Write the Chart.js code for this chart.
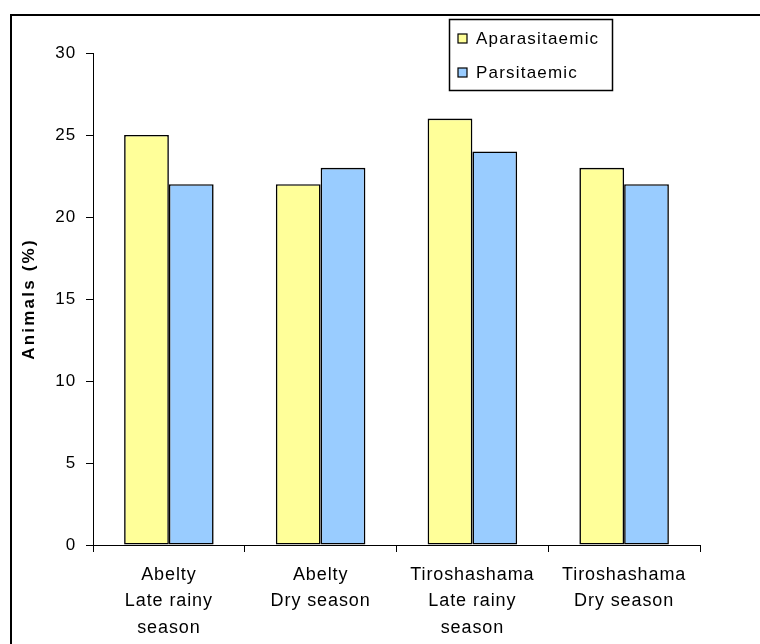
<!DOCTYPE html>
<html>
<head>
<meta charset="utf-8">
<style>
  html, body { margin: 0; padding: 0; background: #ffffff; }
  #wrap { width: 760px; height: 644px; position: relative; }
</style>
<script src="https://cdn.jsdelivr.net/npm/chart.js@4.4.1/dist/chart.umd.min.js"></script>
</head>
<body>
<div id="wrap"><canvas id="c" width="760" height="644"></canvas></div>
<script>
// Sites and seasons
const categories = [
  ['Abelty', 'Late rainy', 'season'],
  ['Abelty', 'Dry season'],
  ['Tiroshashama', 'Late rainy', 'season'],
  ['Tiroshashama', 'Dry season']
];
const seriesNames = ['Aparasitaemic', 'Parsitaemic'];
const aparasitaemic = [25, 22, 26, 23];
const parsitaemic = [22, 23, 24, 22];
const yTicks = [0, 5, 10, 15, 20, 25, 30];
const yTitle = 'Animals (%)';

const FONT = "'Liberation Sans', Arial, Helvetica, sans-serif";
const colors = ['#FFFF99', '#99CCFF'];
const AXIS_SPACING = '0.9px';

// Slightly widened letter spacing for axis labels (also while measuring them)
const spacingPlugin = {
  id: 'spacing',
  beforeUpdate(chart) { chart.ctx.letterSpacing = AXIS_SPACING; },
  beforeLayout(chart) { chart.ctx.letterSpacing = AXIS_SPACING; },
  beforeDraw(chart) { chart.ctx.letterSpacing = AXIS_SPACING; }
};

// Outer frame, rotated value-axis title and boxed legend
const framePlugin = {
  id: 'frameAndLegend',
  afterDraw(chart) {
    const ctx = chart.ctx;
    const area = chart.chartArea;
    ctx.save();
    ctx.strokeStyle = '#000';
    ctx.lineWidth = 2;
    ctx.strokeRect(11, 15, 900, 900);

    // value axis title
    ctx.save();
    ctx.letterSpacing = '2.2px';
    ctx.fillStyle = '#000';
    ctx.font = 'bold 17px ' + FONT;
    ctx.textAlign = 'center';
    ctx.textBaseline = 'middle';
    ctx.translate(29, (area.top + area.bottom) / 2);
    ctx.rotate(-Math.PI / 2);
    ctx.fillText(yTitle, 0, 0);
    ctx.restore();

    // legend box
    ctx.lineWidth = 1.5;
    ctx.fillStyle = '#fff';
    ctx.fillRect(449.5, 19.5, 163, 71);
    ctx.strokeRect(449.5, 19.5, 163, 71);
    ctx.letterSpacing = '1.2px';
    ctx.font = '17px ' + FONT;
    ctx.textBaseline = 'middle';
    const rows = [38.5, 72.5];
    chart.data.datasets.forEach((ds, i) => {
      const y = rows[i];
      ctx.fillStyle = ds.backgroundColor;
      ctx.fillRect(458, y - 4.5, 9, 9);
      ctx.lineWidth = 1.2;
      ctx.strokeStyle = '#000';
      ctx.strokeRect(458, y - 4.5, 9, 9);
      ctx.fillStyle = '#000';
      ctx.fillText(ds.label, 476, y + 1);
    });
    ctx.restore();
  }
};

new Chart(document.getElementById('c'), {
  type: 'bar',
  data: {
    labels: categories,
    datasets: [
      { label: seriesNames[0], data: aparasitaemic, backgroundColor: colors[0],
        borderColor: '#000', borderWidth: 1.6, borderSkipped: false },
      { label: seriesNames[1], data: parsitaemic, backgroundColor: colors[1],
        borderColor: '#000', borderWidth: 1.6, borderSkipped: false }
    ]
  },
  options: {
    responsive: false,
    animation: false,
    devicePixelRatio: 1,
    layout: { padding: { left: 0, top: 53, right: 60, bottom: 0 } },
    datasets: { bar: { categoryPercentage: 0.59, barPercentage: 1.0 } },
    plugins: {
      legend: { display: false },
      tooltip: { enabled: false }
    },
    scales: {
      x: {
        grid: { display: true, drawOnChartArea: false, offset: true,
                tickLength: 7, color: '#000', lineWidth: 1 },
        border: { display: true, color: '#000', width: 1 },
        ticks: { color: '#000', font: { family: FONT, size: 18, lineHeight: 1.46 },
                 padding: 10, maxRotation: 0, autoSkip: false },
        afterFit(scale) { scale.height = 99; }
      },
      y: {
        min: 0, max: 30,
        afterBuildTicks(scale) { scale.ticks = yTicks.map(v => ({ value: v })); },
        grid: { display: true, drawOnChartArea: false, tickLength: 7,
                color: '#000', lineWidth: 1 },
        border: { display: true, color: '#000', width: 1 },
        ticks: { color: '#000', font: { family: FONT, size: 17 }, padding: 10 },
        title: { display: false },
        afterFit(scale) { scale.width = 93; }
      }
    }
  },
  plugins: [spacingPlugin, framePlugin]
});
</script>
</body>
</html>
